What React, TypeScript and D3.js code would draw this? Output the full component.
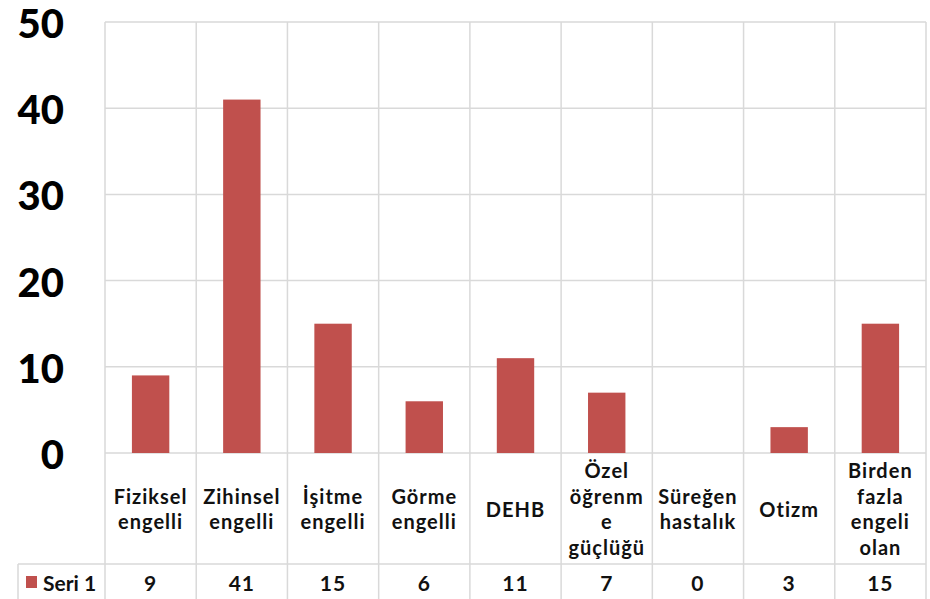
import { useEffect, useRef } from "react";
import * as d3 from "d3";

const categories = [
  ["Fiziksel", "engelli"],
  ["Zihinsel", "engelli"],
  ["İşitme", "engelli"],
  ["Görme", "engelli"],
  ["DEHB"],
  ["Özel", "öğrenm", "e", "güçlüğü"],
  ["Süreğen", "hastalık"],
  ["Otizm"],
  ["Birden", "fazla", "engeli", "olan"],
];
const values = [9, 41, 15, 6, 11, 7, 0, 3, 15];
const yTicks = [0, 10, 20, 30, 40, 50];
const seriesName = "Seri 1";

export default function App() {
  const svgRef = useRef<SVGSVGElement>(null);

  useEffect(() => {
    document.body.style.margin = "0";
    if (!svgRef.current) return;

    const width = 930;
    const height = 599;
    const left = 105;
    const right = 926;
    const top = 22;
    const zeroY = 453;
    const tableRow = 564;
    const tableLeft = 18;
    const font = "Lato, 'Noto Sans', sans-serif";
    const grid = "#d9d9d9";

    const svg = d3.select(svgRef.current);
    svg.selectAll("*").remove();
    svg.attr("width", width).attr("height", height);

    const x = d3.scaleBand<number>()
      .domain(values.map((_, i) => i))
      .range([left, right])
      .padding(0);

    const y = d3.scaleLinear().domain([0, 50]).range([zeroY, top]);

    // horizontal gridlines
    svg.selectAll(".hgrid")
      .data(yTicks)
      .join("line")
      .attr("x1", left)
      .attr("x2", right)
      .attr("y1", (d) => y(d))
      .attr("y2", (d) => y(d))
      .attr("stroke", grid)
      .attr("stroke-width", 1.5);

    // vertical gridlines (through table)
    const bounds = values.map((_, i) => x(i) || 0).concat([right]);
    svg.selectAll(".vgrid")
      .data(bounds)
      .join("line")
      .attr("x1", (d) => d)
      .attr("x2", (d) => d)
      .attr("y1", top)
      .attr("y2", height)
      .attr("stroke", grid)
      .attr("stroke-width", 1.5);

    // table row line
    svg.append("line")
      .attr("x1", tableLeft)
      .attr("x2", right)
      .attr("y1", tableRow)
      .attr("y2", tableRow)
      .attr("stroke", grid)
      .attr("stroke-width", 1.5);
    svg.append("line")
      .attr("x1", tableLeft)
      .attr("x2", tableLeft)
      .attr("y1", tableRow)
      .attr("y2", height)
      .attr("stroke", grid)
      .attr("stroke-width", 1.5);

    // bars
    const barW = x.bandwidth() * 0.41;
    svg.selectAll(".bar")
      .data(values)
      .join("rect")
      .attr("x", (_, i) => (x(i) || 0) + (x.bandwidth() - barW) / 2)
      .attr("y", (d) => y(d))
      .attr("width", barW)
      .attr("height", (d) => zeroY - y(d))
      .attr("fill", "#C0504D");

    // y tick labels
    svg.selectAll(".ytick")
      .data(yTicks)
      .join("text")
      .attr("x", 64)
      .attr("y", (d) => y(d) + 1)
      .attr("text-anchor", "end")
      .attr("dominant-baseline", "central")
      .attr("font-family", font)
      .attr("font-weight", 900)
      .attr("font-size", 40)
      .attr("fill", "#000")
      .text((d) => d);

    // category labels
    const lineH = 25.5;
    const midY = (zeroY + tableRow) / 2;
    const cat = svg.selectAll(".cat")
      .data(categories)
      .join("text")
      .attr("text-anchor", "middle")
      .attr("font-family", font)
      .attr("font-weight", 700)
      .attr("font-size", 20)
      .attr("letter-spacing", 1)
      .attr("fill", "#111");
    cat.each(function (lines, i) {
      const cx = (x(i) || 0) + x.bandwidth() / 2;
      const start = midY - ((lines.length - 1) * lineH) / 2;
      d3.select(this)
        .selectAll("tspan")
        .data(lines)
        .join("tspan")
        .attr("x", cx)
        .attr("y", (_, j) => start + j * lineH)
        .attr("dominant-baseline", "central")
        .text((d) => d);
    });

    // table values
    const rowY = 582;
    svg.selectAll(".val")
      .data(values)
      .join("text")
      .attr("x", (_, i) => (x(i) || 0) + x.bandwidth() / 2)
      .attr("y", rowY)
      .attr("text-anchor", "middle")
      .attr("dominant-baseline", "central")
      .attr("font-family", font)
      .attr("font-weight", 700)
      .attr("font-size", 21)
      .attr("letter-spacing", 1)
      .attr("fill", "#111")
      .text((d) => d);

    // legend key
    svg.append("rect")
      .attr("x", 26)
      .attr("y", rowY - 6)
      .attr("width", 11)
      .attr("height", 12)
      .attr("fill", "#C0504D");
    svg.append("text")
      .attr("x", 43)
      .attr("y", rowY)
      .attr("dominant-baseline", "central")
      .attr("font-family", font)
      .attr("font-weight", 700)
      .attr("font-size", 21)
      .attr("fill", "#111")
      .text(seriesName);
  }, []);

  return <svg ref={svgRef} style={{ display: "block" }} />;
}
